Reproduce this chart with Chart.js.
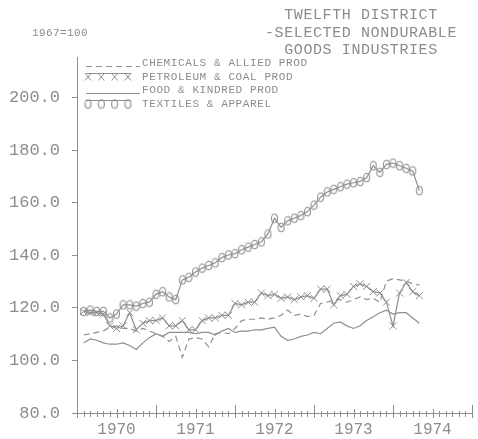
<!DOCTYPE html>
<html><head><meta charset="utf-8">
<script src="https://cdn.jsdelivr.net/npm/chart.js@4.4.1/dist/chart.umd.min.js"></script>
<style>
html,body{margin:0;padding:0;background:#fff;}
#wrap{position:relative;width:478px;height:439px;overflow:hidden;background:#fff;}
canvas{position:absolute;left:0;top:0;}
.t{position:absolute;font-family:"Liberation Mono",monospace;color:#8c8c8c;white-space:pre;line-height:1;}
</style></head><body>
<div id="wrap">
<canvas id="c" width="478" height="439"></canvas>
<div class="t" style="left:241px;top:7px;width:240px;text-align:center;font-size:15px;letter-spacing:0.6px;line-height:17.5px;">TWELFTH DISTRICT<br>-SELECTED NONDURABLE<br>GOODS INDUSTRIES</div>
<div class="t" style="left:32px;top:28px;font-size:11px;letter-spacing:0.4px;">1967=100</div>
<div id="legend"></div>
</div>
<script>
const GRAY = '#8f8f8f';
const TEXT = '#8c8c8c';

const seriesNames = ['CHEMICALS & ALLIED PROD','PETROLEUM & COAL PROD','FOOD & KINDRED PROD','TEXTILES & APPAREL'];

const months = [
 '1970-02','1970-03','1970-04','1970-05','1970-06','1970-07','1970-08','1970-09','1970-10','1970-11','1970-12',
 '1971-01','1971-02','1971-03','1971-04','1971-05','1971-06','1971-07','1971-08','1971-09','1971-10','1971-11','1971-12',
 '1972-01','1972-02','1972-03','1972-04','1972-05','1972-06','1972-07','1972-08','1972-09','1972-10','1972-11','1972-12',
 '1973-01','1973-02','1973-03','1973-04','1973-05','1973-06','1973-07','1973-08','1973-09','1973-10','1973-11','1973-12',
 '1974-01','1974-02','1974-03','1974-04','1974-05'];

const chemicals = [109.7,110.2,110.7,111.2,112.7,113.2,112.2,112.2,111.2,112.2,111.2,
 110.2,109.2,107.2,109.2,101.2,108.2,108.7,108.2,105.2,110.2,110.7,110.2,
 112.2,115.2,115.7,115.7,116.2,115.7,116.2,117.2,119.2,117.2,117.7,116.7,
 117.2,121.7,122.2,123.2,123.2,122.2,123.2,124.2,123.2,123.7,122.2,130.2,
 131.2,130.7,130.2,129.2,128.7];

const petroleum = [118.7,118.2,118.2,117.7,113.2,112.2,113.2,118.2,111.7,114.2,115.2,
 115.2,116.2,113.2,113.2,115.2,111.7,111.7,115.2,116.2,116.2,117.2,117.2,
 121.7,121.2,122.2,122.2,125.7,124.7,125.2,123.7,124.2,123.2,124.2,124.7,
 123.7,127.2,127.2,121.2,124.7,125.2,128.2,129.2,128.2,126.2,125.7,122.2,
 113.2,125.7,129.7,126.2,124.7];

const food = [106.7,108.2,107.7,106.7,106.2,106.2,106.7,105.7,104.2,106.7,108.7,
 110.2,109.2,110.7,110.7,110.7,110.7,110.2,110.7,110.7,109.7,111.2,112.2,
 110.7,111.2,111.2,111.7,111.7,112.2,112.7,109.2,107.7,108.2,109.2,109.7,
 110.7,110.2,112.2,114.2,114.7,113.2,112.2,113.2,115.2,116.7,118.2,119.2,
 117.7,118.2,118.2,116.2,114.2];

const textiles = [118.7,119.2,118.7,118.7,116.2,117.7,121.2,121.2,120.7,121.7,122.2,
 125.2,126.2,124.2,123.2,130.7,131.7,133.7,135.2,136.2,137.2,139.2,140.2,
 140.7,142.2,143.2,144.2,145.2,148.2,154.2,150.7,153.2,154.2,155.2,156.7,
 159.2,162.2,164.2,165.2,166.2,167.2,167.7,168.2,169.7,174.2,171.7,174.7,
 175.2,174.2,173.2,172.2,164.7];

const yearLabels = ['1970','1971','1972','1973','1974'];
const yTickValues = [80,100,120,140,160,180,200];

const baseYear = 1970;
const monthPos = months.map(s => { const [y,m] = s.split('-').map(Number); return (y-baseYear)*12 + (m-1); });
const yearTickPos = yearLabels.map(y => (Number(y)-baseYear)*12 + 6);
const toPts = arr => arr.map((v,i) => ({x: monthPos[i], y: v}));

function ovalMarker(){
  const c = document.createElement('canvas'); c.width = 9; c.height = 11;
  const g = c.getContext('2d'); g.strokeStyle = GRAY; g.lineWidth = 1.1;
  g.beginPath(); g.ellipse(4.5,5.5,3,4.2,0,0,Math.PI*2); g.stroke();
  return c;
}
const oval = ovalMarker();

const axisTicks = {
  id: 'axisTicks',
  afterDraw(chart){
    const xs = chart.scales.x, ctx = chart.ctx;
    const y0 = xs.top;
    ctx.save(); ctx.strokeStyle = GRAY; ctx.lineWidth = 1;
    for (let m = xs.min; m <= xs.max; m++){
      const px = Math.round(xs.getPixelForValue(m)) + 0.5;
      let up = 2, dn = 4;
      if (m % 12 === 0){ up = 8; dn = 5; } else if (m % 6 === 0){ up = 4; dn = 5; }
      ctx.beginPath(); ctx.moveTo(px, y0 - up); ctx.lineTo(px, y0 + dn); ctx.stroke();
    }
    ctx.restore();
  }
};

const legendSamples = {
  id: 'legendSamples',
  afterDraw(chart){
    const ctx = chart.ctx, L = chart.chartArea.left, T = chart.chartArea.top;
    ctx.save(); ctx.strokeStyle = GRAY; ctx.lineWidth = 1;
    // chemicals: dashed
    ctx.setLineDash([6,4]);
    ctx.beginPath(); ctx.moveTo(L+9, T+9.5); ctx.lineTo(L+63, T+9.5); ctx.stroke();
    ctx.setLineDash([]);
    // petroleum: overline + X
    ctx.beginPath(); ctx.moveTo(L+9, T+16.5); ctx.lineTo(L+54, T+16.5); ctx.stroke();
    for (let k=0;k<4;k++){
      const cx = L+11+k*13.3, cy = T+20;
      ctx.beginPath(); ctx.moveTo(cx-3,cy-3.5); ctx.lineTo(cx+3,cy+3.5); ctx.moveTo(cx+3,cy-3.5); ctx.lineTo(cx-3,cy+3.5); ctx.stroke();
    }
    // food: solid
    ctx.beginPath(); ctx.moveTo(L+9, T+36.5); ctx.lineTo(L+63, T+36.5); ctx.stroke();
    // textiles: overline + ovals
    ctx.beginPath(); ctx.moveTo(L+9, T+43.5); ctx.lineTo(L+54, T+43.5); ctx.stroke();
    for (let k=0;k<4;k++){
      ctx.drawImage(oval, L+11+k*13.3-4.5, T+47-5.5);
    }
    ctx.restore();
  }
};

// HTML legend labels
const legendTops = [58,72,85,99];
const lg = document.getElementById('legend');
seriesNames.forEach((n,i) => {
  const d = document.createElement('div');
  d.className = 't';
  d.style.cssText = `left:142px;top:${legendTops[i]}px;font-size:11px;letter-spacing:0.6px;`;
  d.textContent = n;
  lg.appendChild(d);
});

const lineBase = {borderColor: GRAY, borderWidth: 1.2, tension: 0, fill: false, backgroundColor: 'transparent'};

new Chart(document.getElementById('c'), {
  type: 'line',
  data: {
    datasets: [
      {...lineBase, label: seriesNames[0], data: toPts(chemicals), borderDash: [6,4], pointRadius: 0},
      {...lineBase, label: seriesNames[1], data: toPts(petroleum), pointStyle: 'crossRot', pointRadius: 5, pointBorderColor: GRAY, pointBorderWidth: 1},
      {...lineBase, label: seriesNames[2], data: toPts(food), pointRadius: 0},
      {...lineBase, label: seriesNames[3], data: toPts(textiles), pointStyle: oval, pointRadius: 4}
    ]
  },
  options: {
    responsive: false, animation: false, devicePixelRatio: 1,
    layout: {padding: {top: 57, right: 1, left: 0, bottom: 0}},
    plugins: {legend: {display: false}, tooltip: {enabled: false}, title: {display: false}},
    scales: {
      x: {
        type: 'linear', min: 0, max: 60,
        afterBuildTicks: s => { s.ticks = yearTickPos.map(v => ({value: v})); },
        afterFit: s => { s.height = 26; },
        ticks: {autoSkip: false, maxRotation: 0, padding: 7, color: TEXT,
          font: {family: 'Liberation Mono', size: 16},
          callback: (v, i) => yearLabels[i]},
        grid: {display: false, drawTicks: false, tickLength: 0},
        border: {display: true, color: GRAY, width: 1}
      },
      y: {
        min: 80, max: 215.6,
        afterBuildTicks: s => { s.ticks = yTickValues.map(v => ({value: v})); },
        afterFit: s => { s.width = 77; },
        ticks: {padding: 12, color: TEXT, font: {family: 'Liberation Mono', size: 17},
          callback: v => Number(v).toFixed(1)},
        grid: {drawOnChartArea: false, drawTicks: true, tickLength: 5, color: GRAY},
        border: {display: true, color: GRAY, width: 1}
      }
    }
  },
  plugins: [axisTicks, legendSamples]
});
</script>
</body></html>
